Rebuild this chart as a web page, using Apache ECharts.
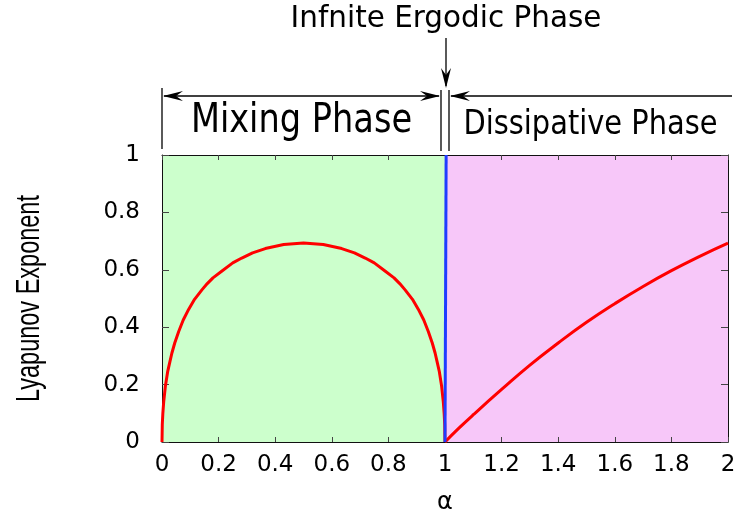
<!DOCTYPE html>
<html><head><meta charset="utf-8">
<script src="https://cdn.jsdelivr.net/npm/echarts@6/dist/echarts.min.js"></script>
<style>html,body{margin:0;padding:0;background:#fff}#c{width:744px;height:515px}</style>
</head><body><div id="c"></div>
<script>
// ---- data ----
const alphaMix = [0, 0.001, 0.003, 0.006, 0.012, 0.02, 0.028, 0.035, 0.045, 0.059, 0.075, 0.094, 0.115, 0.141, 0.16, 0.18, 0.212, 0.25, 0.282, 0.32, 0.365, 0.43, 0.5,
                  0.57, 0.635, 0.68, 0.718, 0.75, 0.788, 0.82, 0.84, 0.859, 0.885, 0.906, 0.925, 0.941, 0.955, 0.965, 0.972, 0.98, 0.988, 0.994, 0.997, 0.999, 1];
const lyapMix  = [0, 0.06, 0.10, 0.14, 0.195, 0.245, 0.28, 0.31, 0.345, 0.385, 0.425, 0.462, 0.497, 0.53, 0.552, 0.572, 0.596, 0.624, 0.641, 0.659, 0.674, 0.688, 0.693,
                  0.688, 0.674, 0.659, 0.641, 0.624, 0.596, 0.572, 0.552, 0.53, 0.497, 0.462, 0.425, 0.385, 0.345, 0.31, 0.28, 0.245, 0.195, 0.14, 0.10, 0.06, 0];
const alphaDis = [1, 1.05, 1.1, 1.2, 1.3, 1.4, 1.5, 1.6, 1.7, 1.8, 1.9, 2];
const lyapDis  = [0, 0.049, 0.095, 0.183, 0.268, 0.345, 0.417, 0.482, 0.542, 0.597, 0.647, 0.693];
const alphaErg = [1, 1.004];
const lyapErg  = [0, 1];
const phaseRanges = [[0, 1], [1, 2]];
const phaseColors = ['#ccffcc', '#f7c7f9'];
const xTicks = ['0', '0.2', '0.4', '0.6', '0.8', '1', '1.2', '1.4', '1.6', '1.8', '2'];
const yTicks = ['0', '0.2', '0.4', '0.6', '0.8', '1'];
const xName = 'α';
const yName = 'Lyapunov Exponent';
const labelMix = 'Mixing Phase';
const labelDis = 'Dissipative Phase';
const labelErg = 'Infnite Ergodic Phase';

const zip = (a, b) => a.map((v, i) => [v, b[i]]);
const chart = echarts.init(document.getElementById('c'), null, {renderer: 'canvas'});
const tickFont = {fontFamily: 'DejaVu Sans', fontSize: 23, color: '#000'};
const baseX = {type: 'value', min: 0, max: 2, interval: 0.2, zlevel: 1, z: 10,
  axisLine: {show: true, onZero: false, lineStyle: {color: '#111', width: 1}},
  splitLine: {show: false},
  axisTick: {show: true, inside: true, length: 5, lineStyle: {color: '#444'}}};
const baseY = {type: 'value', min: 0, max: 1, interval: 0.2, zlevel: 1, z: 10,
  axisLine: {show: true, onZero: false, lineStyle: {color: '#111', width: 1}},
  splitLine: {show: false},
  axisTick: {show: true, inside: true, length: 7, lineStyle: {color: '#444'}}};

chart.setOption({
  animation: false,
  grid: {left: 162, right: 16, top: 155, bottom: 73, show: false, containLabel: false, outerBoundsMode: 'none'},
  xAxis: [
    Object.assign({}, baseX, {position: 'bottom', name: xName, nameLocation: 'middle', nameGap: 49,
      nameTextStyle: {fontFamily: 'DejaVu Sans', fontSize: 24, color: '#000'},
      axisLabel: Object.assign({margin: 12, formatter: (v) => xTicks[Math.round(v / 0.2)]}, tickFont)}),
    Object.assign({}, baseX, {position: 'top', axisLabel: {show: false}})
  ],
  yAxis: [
    Object.assign({}, baseY, {position: 'left',
      axisLabel: Object.assign({margin: 22, formatter: (v) => yTicks[Math.round(v / 0.2)]}, tickFont)}),
    Object.assign({}, baseY, {position: 'right', axisLabel: {show: false}})
  ],
  series: [
    {type: 'line', data: [], silent: true, zlevel: 0, z: 1,
      markArea: {silent: true, data: phaseRanges.map((r, i) => [
        {xAxis: r[0], yAxis: 0, itemStyle: {color: phaseColors[i], opacity: 1}},
        {xAxis: r[1], yAxis: 1}])}},
    {type: 'line', data: zip(alphaMix, lyapMix), showSymbol: false, zlevel: 2, z: 3,
      lineStyle: {color: '#ff0000', width: 3}},
    {type: 'line', data: zip(alphaDis, lyapDis), showSymbol: false, smooth: true, zlevel: 2, z: 3,
      lineStyle: {color: '#ff0000', width: 3}},
    {type: 'line', data: zip(alphaErg, lyapErg), showSymbol: false, zlevel: 2, z: 4,
      lineStyle: {color: '#1f3cff', width: 3}}
  ]
});

// ---- annotations placed from axis coordinates ----
const P = (x, y) => chart.convertToPixel({gridIndex: 0}, [x, y]);
const p0 = P(0, 1), p1 = P(1, 1), p2 = P(2, 1);
const yTop = p0[1];
const yArrow = yTop - 59, yBarTop = yTop - 65, yBarBot = yTop - 6;
const ln = {stroke: '#000', lineWidth: 1.3};
function line(x1, y1, x2, y2) { return {type: 'line', shape: {x1, y1, x2, y2}, style: ln, z: 10}; }
function headH(x, y, dir) { // dir=+1 pointing right, -1 pointing left
  const L = 20, W = 5;
  return {type: 'polygon', z: 11, shape: {points: [[x, y], [x - dir * L, y - W], [x - dir * L * 0.65, y], [x - dir * L, y + W]]}, style: {fill: '#000'}};
}
function headV(x, y) { // pointing down
  const L = 20, W = 5;
  return {type: 'polygon', z: 11, shape: {points: [[x, y], [x - W, y - L], [x, y - L * 0.65], [x + W, y - L]]}, style: {fill: '#000'}};
}
const xb1 = p1[0] - 4, xb2 = p1[0] + 4;
const g = [
  line(p0[0], yBarTop - 2, p0[0], yBarBot),
  line(xb1, yBarTop, xb1, yBarBot + 2),
  line(xb2, yBarTop, xb2, yBarBot + 2),
  line(p0[0] + 2, yArrow, xb1 - 2, yArrow), headH(p0[0] + 1, yArrow, -1), headH(xb1 - 1, yArrow, 1),
  line(xb2 + 2, yArrow, p2[0] + 4, yArrow), headH(xb2 + 1, yArrow, -1),
  line(p1[0] + 1, 38, p1[0] + 1, 86), headV(p1[0] + 1, 88),
  {type: 'text', z: 12, x: (p0[0] + xb1) / 2, y: yTop - 33, scaleX: 0.84,
    style: {text: labelMix, fontFamily: 'DejaVu Sans', fontSize: 40, fill: '#000', textAlign: 'center', textVerticalAlign: 'middle'}},
  {type: 'text', z: 12, x: (xb2 + p2[0]) / 2 + 2, y: yTop - 30, scaleX: 0.85,
    style: {text: labelDis, fontFamily: 'DejaVu Sans', fontSize: 34, fill: '#000', textAlign: 'center', textVerticalAlign: 'middle'}},
  {type: 'text', z: 12, x: p1[0] + 1, y: 19, scaleX: 0.95,
    style: {text: labelErg, fontFamily: 'DejaVu Sans', fontSize: 31, fill: '#000', textAlign: 'center', textVerticalAlign: 'middle'}},
  {type: 'text', z: 12, x: 30, y: (P(0, 0)[1] + yTop) / 2, rotation: Math.PI / 2, scaleY: 1.42,
    style: {text: yName, fontFamily: 'Liberation Sans', fontSize: 23.5, fill: '#000', textAlign: 'center', textVerticalAlign: 'middle'}}
];
chart.setOption({graphic: g});
</script></body></html>
